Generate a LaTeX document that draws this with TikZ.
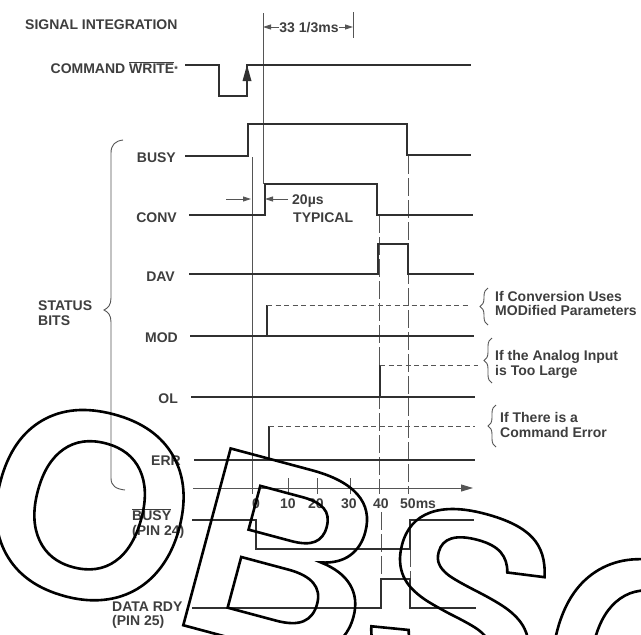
\documentclass[tikz,border=0pt]{standalone}
\usepackage{fontspec}
\setmainfont{Liberation Sans}
\newfontfamily\wmfont{Liberation Sans}
\usetikzlibrary{arrows.meta,decorations.pathreplacing,calc}
\definecolor{txt}{RGB}{62,62,62}
\definecolor{wavecol}{RGB}{48,48,48}
\definecolor{thincol}{RGB}{85,85,85}
\newcommand{\lblfont}{\bfseries\fontsize{14}{16}\selectfont}
\begin{document}
\begin{tikzpicture}[x=1pt,y=-1pt,
  lbl/.style={inner sep=0pt, font=\lblfont, text=txt},
  wave/.style={draw=wavecol, line width=1.8pt, line join=miter, line cap=rect},
  pulse/.style={draw=wavecol, line width=1.6pt},
  thinl/.style={draw=thincol, line width=0.9pt},
  dashl/.style={draw=thincol, line width=1pt, dash pattern=on 5pt off 3.5pt},
  longdash/.style={draw=thincol, line width=0.9pt, dash pattern=on 18pt off 4pt},
  smallbrace/.style={draw=thincol, line width=0.9pt, decorate, decoration={brace, amplitude=8pt}},
  dimarr/.style={thinl, -{Triangle[length=8pt,width=5pt]}},
  wm/.style={inner sep=0pt, text=black, font=\wmfont\bfseries\fontsize{266}{266}\selectfont}
]
\useasboundingbox (0,0) rectangle (641,635);
\fill[white] (0,0) rectangle (641,635);

% ---------- reference lines ----------
\draw[thinl] (263,13) -- (263,184);
\draw[thinl] (353,12) -- (353,38);
\draw[thinl] (252,157) -- (252,494);
\draw[longdash] (379,215) -- (379,494);
\draw[longdash] (381,512) -- (381,579);
\draw[longdash] (408,156) -- (408,494);
\draw[longdash] (410,549) -- (410,579);

% ---------- labels ----------
\node[lbl, anchor=base west] (title) at (25,29) {SIGNAL INTEGRATION};
\node[lbl, anchor=base east] (cmd) at (178,73) {COMMAND $\overline{\mbox{WRITE}}${\fontsize{9}{9}\selectfont\raisebox{1pt}{*}}};
\node[lbl, anchor=base east] (lbusy) at (176,162) {BUSY};
\node[lbl, anchor=base east] (lconv) at (177,222) {CONV};
\node[lbl, anchor=base east] (ldav) at (175,281) {DAV};
\node[lbl, anchor=base east] (lmod) at (178,342) {MOD};
\node[lbl, anchor=base east] (lol) at (178,403) {OL};
\node[lbl, anchor=base east] (lerr) at (181,465) {ERR};
\node[lbl, anchor=base west] (lstat) at (38,310) {STATUS};
\node[lbl, anchor=base west] (lbits) at (38,325) {BITS};
\node[lbl, anchor=base west] (lnbusy) at (132,520) {$\overline{\mbox{BUSY}}$};
\node[lbl, anchor=base west] (lpin24) at (132,535) {(PIN 24)};
\node[lbl, anchor=base west] (ldrdy) at (112,611) {DATA RDY};
\node[lbl, anchor=base west] (lpin25) at (112,625) {(PIN 25)};

% ---------- 33 1/3 ms dimension ----------
\node[lbl, anchor=base] (dim) at (309,32) {33 1/3ms};
\coordinate (dimL) at (263,27);
\coordinate (dimR) at (353,27);
\draw[dimarr] (dim.west |- dimL) -- (dimL);
\draw[dimarr] (dim.east |- dimR) -- (dimR);

% ---------- command write ----------
\draw[wave] (186,65) -- (219,65) -- (219,96) -- (247,96) -- (247,65) -- (470,65);
\fill[wavecol] (247,65) -- (242.5,81) -- (251.5,81) -- cycle;

% ---------- status waveforms ----------
\draw[wave] (186,156) -- (248,156) -- (248,124) -- (407,124) -- (407,155) -- (470,155);
\draw[wave] (190,215) -- (265,215) -- (265,184) -- (377,184) -- (377,215) -- (472,215);
\draw[wave] (190,274) -- (378,274) -- (378,244) -- (408,244) -- (408,274) -- (473,274);
\draw[wave] (191,336) -- (473,336);
\draw[pulse] (267,336) -- (267,305);
\draw[dashl] (267,305) -- (470,305);
\draw[wave] (192,397) -- (474,397);
\draw[pulse] (380,397) -- (380,365);
\draw[dashl] (380,365) -- (478,365);
\draw[wave] (195,460) -- (474,460);
\draw[pulse] (269,460) -- (269,426);
\draw[dashl] (269,426) -- (475,426);

% ---------- 20 us ----------
\node[lbl, anchor=base west] (us) at (292,204) {20µs};
\node[lbl, anchor=base west] (typ) at (293,222) {TYPICAL};
\coordinate (usL) at (251,199);
\coordinate (usR) at (265,199);
\coordinate (usLt) at (226,199);
\draw[dimarr] (usLt) -- (usL);
\draw[dimarr] (us.west |- usR) ++(-4,0) -- (usR);

% ---------- notes ----------
\node[lbl, anchor=base west] (n1a) at (495,301) {If Conversion Uses};
\node[lbl, anchor=base west] (n1b) at (495,315) {MODified Parameters};
\node[lbl, anchor=base west] (n2a) at (495,360) {If the Analog Input};
\node[lbl, anchor=base west] (n2b) at (495,375) {is Too Large};
\node[lbl, anchor=base west] (n3a) at (500,422) {If There is a};
\node[lbl, anchor=base west] (n3b) at (500,437) {Command Error};
\draw[smallbrace] (488,325) -- (488,288);
\draw[smallbrace] (492,383) -- (492,338);
\draw[smallbrace] (496,447) -- (496,405);

% ---------- big brace ----------
\draw[thinl] (123,140) .. controls (115,141) and (111,145) .. (111,153) -- (111,298)
  .. controls (111,305) and (108,308) .. (104,310) .. controls (108,312) and (111,315) .. (111,322)
  -- (111,478) .. controls (111,486) and (116,489) .. (125,490);

% ---------- time axis ----------
\draw[thinl, -{Triangle[length=12pt,width=7pt]}] (193,488) -- (473,488);
\foreach \tx in {288,317,350} { \draw[thinl] (\tx,478) -- (\tx,494); }
\node[lbl, anchor=base] (t0) at (256,508) {0};
\node[lbl, anchor=base] (t10) at (288,508) {10};
\node[lbl, anchor=base] (t20) at (316,508) {20};
\node[lbl, anchor=base] (t30) at (349,508) {30};
\node[lbl, anchor=base] (t40) at (381,508) {40};
\node[lbl, anchor=base west] (t50) at (400,508) {50ms};

% ---------- output pins ----------
\draw[wave] (193,520) -- (256,520) -- (256,549) -- (410,549) -- (410,520) -- (473,520);
\draw[wave] (193,608) -- (381,608) -- (381,579) -- (410,579) -- (410,608) -- (475,608);

% ---------- watermark ----------
\node[wm, anchor=base west, rotate=-15] (mark) at (-34,567) {\special{pdf:literal direct 1 Tr 2.6 w}OBSO\special{pdf:literal direct 0 Tr}};
\end{tikzpicture}
\end{document}
